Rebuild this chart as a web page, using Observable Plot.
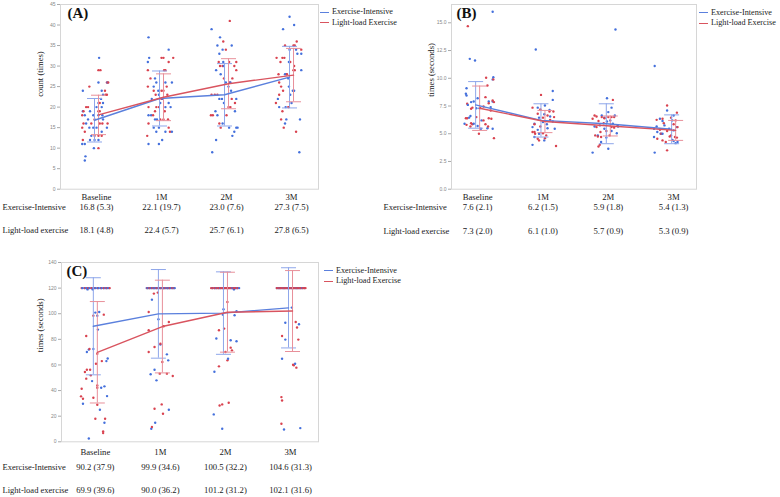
<!DOCTYPE html>
<html><head><meta charset="utf-8">
<script src="https://cdn.jsdelivr.net/npm/d3@7"></script>
<script src="https://cdn.jsdelivr.net/npm/@observablehq/plot@0.6"></script>
<style>
html,body{margin:0;padding:0;background:#fff;}
#root{position:relative;width:780px;height:497px;overflow:hidden;font-family:"Liberation Serif",serif;}
.pnl{position:absolute;}
.pnl svg{overflow:visible;}
.legend{position:absolute;font-size:8.2px;line-height:10.5px;color:#222;white-space:nowrap;}
.legend div{display:flex;align-items:center;height:10.5px;}
.legend .sw{display:inline-block;width:9px;height:0;border-top:1.3px solid;margin-right:3px;}
</style></head><body><div id="root"></div>
<script>
// ---------- categories / labels ----------
const times = ["Baseline", "1M", "2M", "3M"];
const groups = ["Exercise-Intensive", "Light-load Exercise"];
const rowLabels = ["Exercise-Intensive", "Light-load exercise"];

// ---------- Panel A : count (times) ----------
const meanA_EI = [16.8, 22.1, 23.0, 27.3];
const sdA_EI = [5.3, 19.7, 7.6, 7.5];      // reported in table
const barA_EI = [5.3, 6.7, 7.6, 7.5];      // error bar half-length as drawn
const meanA_LL = [18.1, 22.4, 25.7, 27.8];
const sdA_LL = [4.8, 5.7, 6.1, 6.5];
const yTicksA = [0, 5, 10, 15, 20, 25, 30, 35, 40, 45];
// points: [time index, horizontal jitter (in category steps), value]
const ptsA_EI = [
[0,.04,32],[0,.03,26],[0,.17,26],[0,-.21,24],[0,.08,24],[0,.10,23],[0,.07,22],[0,.03,21],[0,.10,21],[0,0,20],[0,.08,20],[0,-.21,19],[0,-.10,19],[0,-.05,18],[0,.03,18],[0,.09,18],[0,-.18,18],[0,-.13,17],[0,.10,17],[0,-.16,16],[0,-.11,15],[0,-.05,15],[0,0,15],[0,.16,15],[0,.08,14],[0,-.08,13],[0,-.10,12],[0,-.03,12],[0,.03,12],[0,-.22,11],[0,-.18,11],[0,-.04,10],[0,-.17,8],[0,-.18,7],
[1,-.20,37],[1,.11,34],[1,-.19,32],[1,-.21,31],[1,-.10,27],[1,-.08,26],[1,.06,26],[1,.16,26],[1,-.12,25],[1,-.05,24],[1,-.04,23],[1,-.15,22],[1,.02,22],[1,-.02,21],[1,.11,21],[1,.06,20],[1,.14,20],[1,-.20,18],[1,-.16,18],[1,-.07,17],[1,-.10,17],[1,-.12,15],[1,-.04,15],[1,-.08,14],[1,.06,14],[1,.16,14],[1,.01,12],[1,-.20,11],[1,-.04,11],
[2,-.23,39],[2,-.10,37],[2,-.14,35],[2,.08,35],[2,-.06,34],[2,-.11,33],[2,-.05,31],[2,-.04,30],[2,-.16,29],[2,-.09,28],[2,-.01,26],[2,.06,26],[2,.03,25],[2,.07,24],[2,-.11,22],[2,-.07,22],[2,.15,22],[2,-.04,21],[2,-.17,19],[2,.13,19],[2,-.14,18],[2,-.06,16],[2,.04,15],[2,.15,15],[2,.17,15],[2,.12,14],[2,.09,13],[2,-.16,12],[2,-.22,9],
[3,-.03,42],[3,.04,40],[3,-.13,39],[3,-.03,34],[3,.07,34],[3,.09,33],[3,.15,33],[3,-.04,31],[3,.15,29],[3,-.10,28],[3,-.08,28],[3,-.05,27],[3,-.04,25],[3,.02,24],[3,.04,24],[3,-.02,23],[3,-.21,22],[3,0,21],[3,-.19,20],[3,-.09,20],[3,-.08,17],[3,.13,17],[3,-.10,16],[3,.12,9]
];
const ptsA_LL = [
[0,.03,29],[0,.06,29],[0,-.11,25],[0,.16,26],[0,.18,26],[0,.13,24],[0,.14,23],[0,.16,23],[0,.05,21],[0,-.13,20],[0,-.16,20],[0,-.20,19],[0,.03,19],[0,.05,19],[0,-.22,18],[0,-.03,17],[0,-.20,16],[0,-.08,16],[0,.05,16],[0,.09,16],[0,.17,16],[0,-.22,15],[0,-.18,14],[0,-.03,13],[0,.03,13],[0,.08,13],[0,-.21,12],[0,.03,10],
[1,.18,32],[1,0,32],[1,.03,32],[1,.11,31],[1,-.21,29],[1,.04,29],[1,.06,29],[1,-.17,27],[1,-.21,25],[1,.08,25],[1,-.12,24],[1,0,24],[1,.03,24],[1,-.09,23],[1,.09,23],[1,0,22],[1,-.20,20],[1,-.08,20],[1,-.04,20],[1,-.10,19],[1,.05,19],[1,-.13,18],[1,-.02,17],[1,.03,17],[1,.10,17],[1,-.20,16],[1,.11,15],[1,.13,14],[1,-.22,13],
[2,.05,41],[2,-.05,36],[2,-.01,34],[2,-.12,31],[2,.04,31],[2,.15,31],[2,-.10,30],[2,-.06,30],[2,.12,30],[2,.15,29],[2,-.04,27],[2,.09,27],[2,.05,26],[2,-.23,23],[2,-.18,23],[2,-.14,23],[2,.08,22],[2,.13,21],[2,.03,20],[2,.06,20],[2,0,18],[2,-.24,18],[2,-.21,18],[2,-.11,16],[2,-.09,15],
[3,.08,36],[3,-.10,35],[3,.03,35],[3,.05,35],[3,.15,34],[3,-.23,32],[3,-.14,32],[3,-.11,32],[3,-.17,31],[3,-.02,31],[3,.04,30],[3,.03,29],[3,.05,29],[3,-.20,28],[3,-.07,28],[3,-.19,26],[3,-.16,25],[3,-.13,24],[3,-.19,23],[3,-.24,21],[3,-.05,20],[3,-.04,20],[3,-.14,19],[3,-.16,17],[3,-.12,15],[3,.07,14]
];

// ---------- Panel B : times (seconds) ----------
const meanB_EI = [7.6, 6.2, 5.9, 5.4];
const sdB_EI = [2.1, 1.5, 1.8, 1.3];
const meanB_LL = [7.3, 6.1, 5.7, 5.3];
const sdB_LL = [2.0, 1.0, 0.9, 0.9];
const yTicksB = [0, 2.5, 5, 7.5, 10, 12.5, 15];
const ptsB_EI = [
[0,.23,16.0],[0,-.12,11.75],[0,-.04,11.6],[0,.24,10.1],[0,.23,9.9],[0,-.17,9.1],[0,-.18,8.6],[0,-.17,8.45],[0,0,8.2],[0,-.06,7.9],[0,-.10,7.85],[0,.17,7.9],[0,.23,7.9],[0,-.15,7.6],[0,-.02,7.3],[0,.03,7.3],[0,.20,7.4],[0,-.11,6.6],[0,-.13,6.45],[0,.06,6.2],[0,-.06,5.9],[0,-.20,5.9],[0,0,5.7],[0,.15,5.5],[0,.23,5.45],[0,.05,5.45],
[1,-.11,12.6],[1,.15,8.85],[1,.03,7.55],[1,.15,8.05],[1,-.08,7.35],[1,.10,7.15],[1,.02,6.75],[1,-.06,6.45],[1,.11,6.55],[1,-.13,5.9],[1,-.16,5.6],[1,0,6.05],[1,.06,5.85],[1,.15,6.1],[1,-.08,5.35],[1,.07,5.5],[1,-.06,5.0],[1,.18,5.45],[1,-.13,4.7],[1,-.16,4.0],[1,.02,4.4],
[2,.11,14.4],[2,-.02,8.2],[2,0,6.95],[2,.05,7.35],[2,-.10,6.65],[2,-.06,6.45],[2,.10,6.65],[2,.03,6.2],[2,-.02,6.1],[2,.07,5.9],[2,-.13,5.75],[2,-.21,5.65],[2,.15,5.65],[2,-.06,5.45],[2,.05,5.25],[2,.13,5.05],[2,-.16,4.85],[2,-.03,4.65],[2,0,3.65],[2,-.24,3.3],[2,-.11,4.25],
[3,-.29,11.1],[3,-.10,7.1],[3,0,6.65],[3,-.21,6.35],[3,-.17,6.15],[3,-.02,6.2],[3,-.26,5.65],[3,-.14,5.75],[3,-.30,5.45],[3,-.07,5.45],[3,.05,5.6],[3,-.25,5.15],[3,-.17,5.0],[3,0,5.3],[3,-.30,4.7],[3,-.02,4.45],[3,.06,4.25],[3,0,4.35],[3,.03,4.15],[3,-.29,3.3],[3,-.20,5.0]
];
const ptsB_LL = [
[0,-.15,14.7],[0,.13,10.05],[0,.24,9.9],[0,.15,9.35],[0,.12,8.3],[0,.23,8.0],[0,.25,7.85],[0,-.16,7.7],[0,.17,7.75],[0,-.08,7.35],[0,-.10,7.25],[0,.04,7.33],[0,.09,7.45],[0,.20,7.1],[0,-.18,6.4],[0,-.16,6.4],[0,-.02,6.5],[0,.17,6.4],[0,.21,6.35],[0,.09,6.2],[0,-.10,5.95],[0,-.08,5.85],[0,.12,5.85],[0,-.17,5.8],[0,.16,5.65],[0,-.11,5.65],[0,.02,5.0],[0,.25,4.6],
[1,-.03,8.5],[1,-.08,6.8],[1,.10,7.0],[1,.16,7.0],[1,-.04,7.2],[1,-.16,7.35],[1,.07,6.65],[1,0,6.45],[1,.17,6.5],[1,.11,6.25],[1,-.13,5.85],[1,-.04,5.65],[1,-.13,5.15],[1,0,5.05],[1,-.16,5.15],[1,.03,4.6],[1,-.08,4.55],[1,-.06,4.4],[1,.20,3.9],[1,.05,4.85],[1,-.12,5.0],
[2,.07,8.05],[2,-.21,6.65],[2,-.18,6.55],[2,-.10,6.5],[2,0,6.5],[2,.05,6.5],[2,.09,6.5],[2,-.24,6.35],[2,-.06,6.4],[2,-.15,6.15],[2,-.07,5.95],[2,-.18,5.6],[2,.14,5.7],[2,.05,5.6],[2,.09,5.55],[2,-.12,5.15],[2,-.03,5.25],[2,-.20,4.85],[2,.02,4.85],[2,-.11,4.7],[2,-.16,4.75],[2,-.13,4.0],[2,-.15,3.85],
[3,-.10,7.55],[3,.05,6.9],[3,-.17,6.35],[3,-.04,6.45],[3,.03,6.2],[3,-.26,6.25],[3,-.15,5.95],[3,0,5.85],[3,.06,5.6],[3,-.21,5.35],[3,-.10,5.25],[3,-.19,5.0],[3,-.06,4.75],[3,.02,4.7],[3,.05,4.65],[3,-.25,4.55],[3,-.12,4.25],[3,-.04,4.85],[3,-.17,4.4],[3,-.10,3.5]
];

// ---------- Panel C : times (seconds), ceiling 120 ----------
const meanC_EI = [90.2, 99.9, 100.5, 104.6];
const sdC_EI = [37.9, 34.6, 32.2, 31.3];
const meanC_LL = [69.9, 90.0, 101.2, 102.1];
const sdC_LL = [39.6, 36.2, 31.2, 31.6];
const yTicksC = [0, 20, 40, 60, 80, 100, 120, 140];
const ceilingC = 120;
// jitter of the points sitting on the 120 s ceiling, per time point
const ceilC_EI = [
[-.20,-.17,-.14,-.12,-.09,-.06,-.03,0,.03,.05,.08,.10,.13,.15,.17,.19,.21],
[-.21,-.19,-.17,-.15,-.13,-.11,-.09,-.08,-.06,-.04,-.02,0,.02,.04,.05,.07,.09,.11,.12,.14,.16,.18,.20,.22],
[-.20,-.17,-.14,-.11,-.08,-.05,-.02,.01,.04,.07,.10,.12,.15,.18,.21],
[-.21,-.19,-.17,-.15,-.13,-.11,-.09,-.07,-.05,-.03,-.01,.01,.03,.05,.07,.09,.11,.13,.15,.18,.21]
];
const ceilC_LL = [
[-.21,-.16,-.11,-.06,-.01,.04,.09,.13,.17,.22],
[-.20,-.17,-.13,-.10,-.06,-.03,0,.04,.07,.11,.14,.18,.21],
[-.22,-.20,-.17,-.15,-.13,-.11,-.09,-.07,-.05,-.03,-.01,.01,.03,.05,.07,.09,.11,.13,.15,.17,.19],
[-.21,-.19,-.17,-.15,-.13,-.11,-.09,-.07,-.05,-.03,-.01,.01,.03,.05,.07,.09,.11,.13,.15,.17,.19,.21,.23]
];
const ptsC_EI = [
[0,-.12,119],[0,-.04,119],[0,.06,101.4],[0,0,100.9],[0,.03,98.5],[0,.04,87.6],[0,-.13,70.1],[0,-.10,72],[0,-.03,72.5],[0,.19,65],[0,.17,63],[0,-.05,47.4],[0,.09,42.2],[0,.14,43.3],[0,.18,35.7],[0,-.19,29.7],[0,.07,25],[0,.14,14.9],[0,-.10,2.6],
[1,-.13,111],[1,-.03,95.7],[1,0,75.9],[1,.10,68.3],[1,.12,63.6],[1,-.09,56.3],[1,-.15,52.7],[1,-.06,48],[1,.13,25],[1,-.08,14.9],[1,-.14,10.2],
[2,.13,119],[2,-.03,103.5],[2,-.04,99.3],[2,.14,98.8],[2,.17,101.9],[2,-.14,80.6],[2,.08,79.3],[2,.17,78.5],[2,.04,64.9],[2,-.17,54.7],[2,-.18,21.4],[2,-.05,10.2],
[3,.02,104.8],[3,-.08,93],[3,-.08,79.8],[3,.13,91.8],[3,-.13,64.9],[3,.07,61],[3,-.10,9.6],[3,.15,10.7]
];
const ptsC_LL = [
[0,-.03,98.5],[0,.13,99.3],[0,-.14,82.6],[0,.03,68.8],[0,-.09,72.5],[0,.01,61],[0,.10,63],[0,-.13,56.3],[0,-.08,56.3],[0,-.16,54.5],[0,-.07,51.9],[0,-.14,49.3],[0,.03,44],[0,.03,42.2],[0,-.21,41.4],[0,-.22,35.5],[0,-.19,33.6],[0,-.03,34.4],[0,.03,28.9],[0,0,18],[0,.15,18],[0,.12,8.1],[0,.12,6.8],
[1,-.10,115.7],[1,-.04,116.5],[1,-.18,101.4],[1,-.18,87.1],[1,-.09,74],[1,.05,90.2],[1,.13,93.6],[1,0,76.6],[1,-.18,70.1],[1,.03,62.3],[1,-.01,53.2],[1,.10,53.2],[1,.19,51.4],[1,-.09,25.8],[1,.02,29.2],[1,.04,21.9],[1,-.13,11.5],
[2,.03,109.2],[2,-.10,87.1],[2,-.02,88.4],[2,.08,73.5],[2,.10,71.4],[2,.03,63.6],[2,-.10,58.9],[2,0,70.1],[2,-.09,28.4],[2,-.05,29.2],[2,.05,30.5],
[3,.08,93.6],[3,.10,89.2],[3,-.13,82.6],[3,.12,79.8],[3,.04,60.2],[3,.05,59.7],[3,.09,57.9],[3,-.14,34.9],[3,-.13,32.3],[3,-.14,14.1]
];

// ---------- styling ----------
const SERIF = "Liberation Serif, Times New Roman, serif";
const SANS = "Liberation Sans, Arial, sans-serif";
const BLUE = "#4470dc", RED = "#d9424f";
const BLUE_L = "#8ea6ea", RED_L = "#e8909a";
const BLUE_M = "#5b80dd", RED_M = "#d9545f";
const groupColor = [BLUE, RED];

const hline = {draw(ctx, size) { const r = Math.sqrt(size / Math.PI); ctx.moveTo(-r, 0); ctx.lineTo(r, 0); }};
const fmt = (m, s) => `${m.toFixed(1)} (${s.toFixed(1)})`;

function panel(c) {
  const stats = (means, sds) => means.map((m, i) => ({t: i, m, lo: m - sds[i], hi: m + sds[i]}));
  const sEI = stats(c.meanEI, c.barEI), sLL = stats(c.meanLL, c.barLL);
  // both groups in one layer, drawn left to right so the colours interleave as in the source
  const pts = c.ptsEI.map(([t, o, v]) => ({x: t + o, v, g: 0}))
    .concat(c.ptsLL.map(([t, o, v]) => ({x: t + o, v, g: 1})))
    .sort((a, b) => a.x - b.x);
  const table = c.meanEI.map((m, i) => ({t: i, a: fmt(m, c.sdEI[i]), b: fmt(c.meanLL[i], c.sdLL[i])}));
  const errMarks = (s, col, dx) => [
    Plot.ruleX(s, {x: "t", y1: "lo", y2: "hi", stroke: col, strokeWidth: 1, dx}),
    Plot.dot(s, {x: "t", y: "lo", symbol: hline, r: 7.5, stroke: col, fill: "none", strokeWidth: 1, dx}),
    Plot.dot(s, {x: "t", y: "hi", symbol: hline, r: 7.5, stroke: col, fill: "none", strokeWidth: 1, dx})
  ];
  return Plot.plot({
    width: c.width, height: c.height,
    marginTop: c.mt, marginBottom: c.mb, marginLeft: c.ml, marginRight: c.mr,
    x: {type: "linear", domain: c.xDomain, label: null},
    y: {domain: c.yDomain, label: null},
    color: {type: "identity"},
    style: {background: "transparent", fontFamily: SERIF, color: "#1a1a1a", overflow: "visible"},
    marks: [
      Plot.frame({stroke: "#d6d6d6"}),
      Plot.axisY({ticks: c.yTicks, tickFormat: c.yFmt, tickSize: 3, tickPadding: 2, fontSize: 5, fontFamily: SANS, stroke: "#aaa", fill: "#888", label: null}),
      Plot.axisX({ticks: [0, 1, 2, 3], tickFormat: i => times[i], tickSize: 0, tickPadding: c.xPad, fontSize: 8.7, fontFamily: SERIF, fill: "#1a1a1a", label: null}),
      Plot.text([c.yLabel], {frameAnchor: "left", rotate: -90, dx: c.yLabelDx, fontSize: 8.6, fill: "#1a1a1a"}),
      Plot.dot(pts, {x: "x", y: "v", r: 1.2, fill: d => groupColor[d.g]}),
      ...errMarks(sEI, BLUE_L, -2),
      ...errMarks(sLL, RED_L, 2),
      Plot.line(sEI, {x: "t", y: "m", stroke: BLUE_M, strokeWidth: 1.4, dx: -2}),
      Plot.line(sLL, {x: "t", y: "m", stroke: RED_M, strokeWidth: 1.4, dx: 2}),
      Plot.text([c.tag], {frameAnchor: "top-left", dx: c.tagDx, dy: 3, fontSize: 15, fontWeight: "bold", textAnchor: "start", lineAnchor: "top", fill: "#111"}),
      Plot.text(table, {x: "t", text: "a", frameAnchor: "bottom", dy: c.row1, fontSize: 8.7}),
      Plot.text(table, {x: "t", text: "b", frameAnchor: "bottom", dy: c.row2, fontSize: 8.7}),
      Plot.text([rowLabels[0]], {frameAnchor: "bottom-left", dx: c.rowDx, dy: c.row1, textAnchor: "start", fontSize: 8.5}),
      Plot.text([rowLabels[1]], {frameAnchor: "bottom-left", dx: c.rowDx, dy: c.row2, textAnchor: "start", fontSize: 8.5})
    ]
  });
}

function place(node, left, top) {
  const d = document.createElement("div");
  d.className = "pnl"; d.style.left = left + "px"; d.style.top = top + "px";
  d.appendChild(node);
  document.getElementById("root").appendChild(d);
}
function legend(left, top) {
  const d = document.createElement("div");
  d.className = "legend"; d.style.left = left + "px"; d.style.top = top + "px";
  d.innerHTML = groups.map((g, i) => `<div><span class="sw" style="border-color:${i ? RED_M : BLUE_M}"></span>${g}</div>`).join("");
  document.getElementById("root").appendChild(d);
}

const ceilPts = (ceil, offs) => offs.flatMap((arr, t) => arr.map(o => [t, o, ceil]));

place(panel({
  width: 320, height: 245, mt: 4, mb: 56.3, ml: 60, mr: 2,
  xDomain: [-0.554, 3.415], yDomain: [0, 45], yTicks: yTicksA, yFmt: d => String(d),
  yLabel: "count (times)", yLabelDx: -20, xPad: 5, tag: "(A)", tagDx: 7,
  ptsEI: ptsA_EI, ptsLL: ptsA_LL,
  meanEI: meanA_EI, sdEI: sdA_EI, barEI: barA_EI, meanLL: meanA_LL, sdLL: sdA_LL, barLL: sdA_LL,
  row1: 20.8, row2: 43.8, rowDx: -58
}), 0, 0);

place(panel({
  width: 318, height: 245, mt: 4, mb: 56.3, ml: 71, mr: 2,
  xDomain: [-0.40, 3.35], yDomain: [0, 16.65], yTicks: yTicksB, yFmt: d => d.toFixed(1),
  yLabel: "times (seconds)", yLabelDx: -20, xPad: 5, tag: "(B)", tagDx: 5,
  ptsEI: ptsB_EI, ptsLL: ptsB_LL,
  meanEI: meanB_EI, sdEI: sdB_EI, barEI: sdB_EI, meanLL: meanB_LL, sdLL: sdB_LL, barLL: sdB_LL,
  row1: 21, row2: 44.3, rowDx: -68
}), 380, 0);

place(panel({
  width: 320, height: 247, mt: 12, mb: 55.7, ml: 61, mr: 2,
  xDomain: [-0.52, 3.43], yDomain: [0, 140], yTicks: yTicksC, yFmt: d => String(d),
  yLabel: "times (seconds)", yLabelDx: -21, xPad: 7, tag: "(C)", tagDx: 5,
  ptsEI: ptsC_EI.concat(ceilPts(ceilingC, ceilC_EI)), ptsLL: ptsC_LL.concat(ceilPts(ceilingC, ceilC_LL)),
  meanEI: meanC_EI, sdEI: sdC_EI, barEI: sdC_EI, meanLL: meanC_LL, sdLL: sdC_LL, barLL: sdC_LL,
  row1: 27.9, row2: 51.2, rowDx: -59
}), 0, 250);

legend(320, 7);
legend(699, 7.7);
legend(324, 265.5);
</script></body></html>
